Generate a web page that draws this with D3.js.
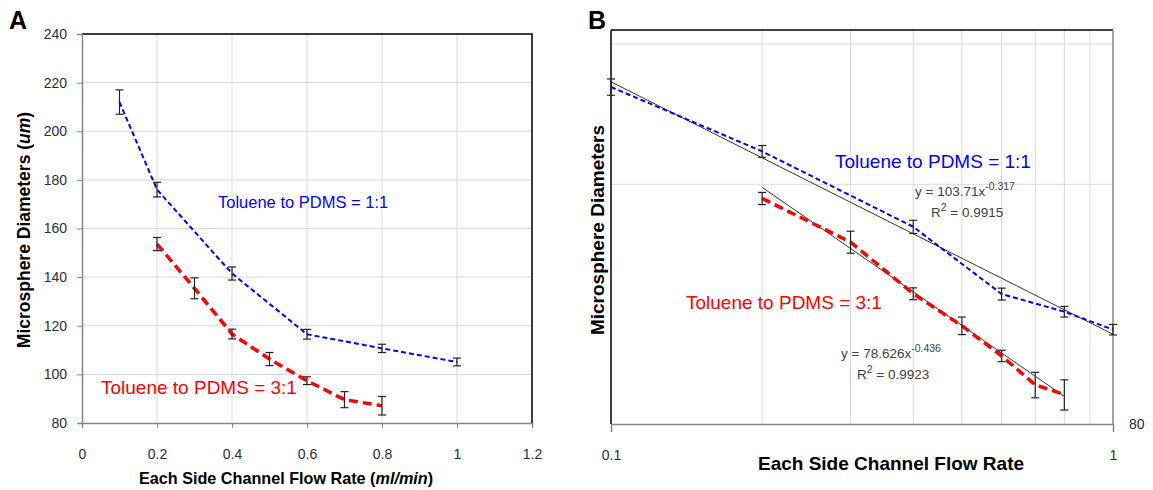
<!DOCTYPE html>
<html lang="en">
<head>
    <meta charset="UTF-8">
    <title>Microsphere diameters vs side channel flow rate</title>
    <script src="https://d3js.org/d3.v7.min.js"></script>
    <style>
        body {
            margin: 0;
            padding: 0;
            background-color: #fff;
            font-family: Arial, "Liberation Sans", sans-serif;
        }

        .tick text {
            font-size: 14px;
            fill: #2b2b3a;
            font-family: "Liberation Sans", Arial, sans-serif;
        }

        .grid line {
            stroke: #d9d9d9;
            stroke-width: 1px;
        }

        .axis-title {
            font-weight: bold;
            fill: #000;
        }
    </style>
</head>
<body>
<svg id="chart" width="1153" height="490"></svg>

<script>
    // data
    const flowBlue = [0.1, 0.2, 0.4, 0.6, 0.8, 1.0];
    const diaBlue = [212, 176, 141.5, 116.5, 110.7, 105.1];
    const errBlue = [5, 3, 2.7, 2, 1.7, 1.6];

    const flowRed = [0.2, 0.3, 0.4, 0.5, 0.6, 0.7, 0.8];
    const diaRed = [153.6, 135.4, 116.6, 106.3, 97.4, 89.6, 87.1];
    const errRed = [2.7, 4.3, 2, 2.7, 1.6, 3.3, 3.8];

    // power trendlines shown in panel B: y = a * x^b
    const fitBlue = { a: 103.71, b: -0.317, r2: '0.9915' };
    const fitRed = { a: 78.626, b: -0.436, r2: '0.9923' };

    const xTicksA = [0, 0.2, 0.4, 0.6, 0.8, 1, 1.2];
    const yTicksA = [80, 100, 120, 140, 160, 180, 200, 220, 240];
    const xGridB = [0.2, 0.3, 0.4, 0.5, 0.6, 0.7, 0.8, 0.9];
    const yGridB = [160, 240];

    const blueSeries = flowBlue.map((f, i) => ({ x: f, y: diaBlue[i], e: errBlue[i] }));
    const redSeries = flowRed.map((f, i) => ({ x: f, y: diaRed[i], e: errRed[i] }));

    const svg = d3.select('#chart');

    // ---------- Panel A ----------
    const xA = d3.scaleLinear().domain([0, 1.2]).range([82, 532]);
    const yA = d3.scaleLinear().domain([80, 240]).range([423, 34]);

    const gA = svg.append('g');

    // gridlines
    gA.append('g').attr('class', 'grid')
        .selectAll('line').data(xTicksA.slice(1)).join('line')
        .attr('x1', d => xA(d)).attr('x2', d => xA(d))
        .attr('y1', yA(240)).attr('y2', yA(80));
    gA.append('g').attr('class', 'grid')
        .selectAll('line').data(yTicksA.slice(1)).join('line')
        .attr('x1', xA(0)).attr('x2', xA(1.2))
        .attr('y1', d => yA(d)).attr('y2', d => yA(d));

    // border top / right
    gA.append('path')
        .attr('d', `M${xA(0)},${yA(240)}H${xA(1.2)}V${yA(80)}`)
        .attr('fill', 'none').attr('stroke', '#000').attr('stroke-width', 1.5);

    // axes
    const axA = gA.append('g')
        .attr('transform', `translate(0,${yA(80)})`)
        .call(d3.axisBottom(xA).tickValues(xTicksA).tickSize(5).tickPadding(21).tickFormat(d3.format('')));
    const ayA = gA.append('g')
        .attr('transform', `translate(${xA(0)},0)`)
        .call(d3.axisLeft(yA).tickValues(yTicksA).tickSize(5).tickPadding(10));
    [axA, ayA].forEach(a => {
        a.selectAll('.domain').attr('stroke', '#868686').attr('stroke-width', 1.5);
        a.selectAll('.tick line').attr('stroke', '#868686');
    });

    const lineA = d3.line().x(d => xA(d.x)).y(d => yA(d.y));

    gA.append('path').datum(blueSeries)
        .attr('d', lineA).attr('fill', 'none')
        .attr('stroke', '#0000ff').attr('stroke-width', 2).attr('stroke-dasharray', '5,3');
    gA.append('path').datum(redSeries)
        .attr('d', lineA).attr('fill', 'none')
        .attr('stroke', '#ff0000').attr('stroke-width', 3.5).attr('stroke-dasharray', '9,5');

    function errorBars(g, data, x, y) {
        const eb = g.append('g').attr('stroke', '#222').attr('stroke-width', 1.2);
        data.forEach(d => {
            const cx = x(d.x), top = y(d.y + d.e), bot = y(d.y - d.e);
            eb.append('line').attr('x1', cx).attr('x2', cx).attr('y1', top).attr('y2', bot);
            eb.append('line').attr('x1', cx - 4).attr('x2', cx + 4).attr('y1', top).attr('y2', top);
            eb.append('line').attr('x1', cx - 4).attr('x2', cx + 4).attr('y1', bot).attr('y2', bot);
        });
    }
    errorBars(gA, blueSeries, xA, yA);
    errorBars(gA, redSeries, xA, yA);

    gA.append('text').attr('x', 9).attr('y', 29)
        .attr('font-size', 25).attr('font-weight', 'bold').text('A');

    const yTitleA = gA.append('text').attr('class', 'axis-title')
        .attr('transform', `translate(30,230) rotate(-90)`)
        .attr('text-anchor', 'middle').attr('font-size', 17.5);
    yTitleA.append('tspan').text('Microsphere Diameters (');
    yTitleA.append('tspan').attr('font-style', 'italic').text('um');
    yTitleA.append('tspan').text(')');

    const xTitleA = gA.append('text').attr('class', 'axis-title')
        .attr('x', 286).attr('y', 484)
        .attr('text-anchor', 'middle').attr('font-size', 16.2);
    xTitleA.append('tspan').text('Each Side Channel Flow Rate (');
    xTitleA.append('tspan').attr('font-style', 'italic').text('ml/min');
    xTitleA.append('tspan').text(')');

    gA.append('text').attr('x', 218).attr('y', 208)
        .attr('font-size', 16.5).attr('fill', '#0000ff').text('Toluene to PDMS = 1:1');
    gA.append('text').attr('x', 101).attr('y', 394)
        .attr('font-size', 19).attr('fill', '#ff0000').text('Toluene to PDMS = 3:1');

    // ---------- Panel B ----------
    const xB = d3.scaleLog().domain([0.1, 1]).range([611, 1113]);
    const yB = d3.scaleLog().domain([80, 250]).range([424, 30]);

    const gB = svg.append('g');

    gB.append('g').attr('class', 'grid')
        .selectAll('line').data(xGridB).join('line')
        .attr('x1', d => xB(d)).attr('x2', d => xB(d))
        .attr('y1', yB(250)).attr('y2', yB(80));
    gB.append('g').attr('class', 'grid')
        .selectAll('line').data(yGridB).join('line')
        .attr('x1', xB(0.1)).attr('x2', xB(1))
        .attr('y1', d => yB(d)).attr('y2', d => yB(d));

    // frame: top black, right grey, left black, bottom grey
    gB.append('line').attr('x1', xB(0.1)).attr('x2', xB(1)).attr('y1', yB(250)).attr('y2', yB(250))
        .attr('stroke', '#000').attr('stroke-width', 1.5);
    gB.append('line').attr('x1', xB(1)).attr('x2', xB(1)).attr('y1', yB(250)).attr('y2', yB(80))
        .attr('stroke', '#868686').attr('stroke-width', 1.5);

    const axB = gB.append('g')
        .attr('transform', `translate(0,${yB(80)})`)
        .call(d3.axisBottom(xB).tickValues([0.1, 1]).tickSize(8).tickPadding(18).tickFormat(d3.format('')));
    axB.selectAll('.domain').attr('stroke', '#868686').attr('stroke-width', 1.5);
    axB.selectAll('.tick line').attr('stroke', '#868686');

    gB.append('line').attr('x1', xB(0.1)).attr('x2', xB(0.1)).attr('y1', yB(250)).attr('y2', yB(80))
        .attr('stroke', '#000').attr('stroke-width', 1.5);

    // y-axis min label ends up at the right side
    gB.append('text')
        .attr('x', xB(1) + 16).attr('y', yB(80) + 5)
        .attr('font-size', 14).attr('fill', '#2b2b3a').text('80');

    const lineB = d3.line().x(d => xB(d.x)).y(d => yB(d.y));

    // trendlines
    [[fitBlue, flowBlue], [fitRed, flowRed]].forEach(([fit, flows]) => {
        const pts = flows.map(f => ({ x: f, y: fit.a * Math.pow(f, fit.b) }));
        gB.append('path').datum(pts).attr('d', lineB).attr('fill', 'none')
            .attr('stroke', '#333').attr('stroke-width', 1);
    });

    gB.append('path').datum(blueSeries)
        .attr('d', lineB).attr('fill', 'none')
        .attr('stroke', '#0000ff').attr('stroke-width', 2).attr('stroke-dasharray', '5,3');
    gB.append('path').datum(redSeries)
        .attr('d', lineB).attr('fill', 'none')
        .attr('stroke', '#ff0000').attr('stroke-width', 3.5).attr('stroke-dasharray', '9,5');

    errorBars(gB, blueSeries, xB, yB);
    errorBars(gB, redSeries, xB, yB);

    gB.append('text').attr('x', 588).attr('y', 29)
        .attr('font-size', 25).attr('font-weight', 'bold').text('B');

    gB.append('text').attr('class', 'axis-title')
        .attr('transform', `translate(604,230) rotate(-90)`)
        .attr('text-anchor', 'middle').attr('font-size', 19)
        .text('Microsphere Diameters');

    gB.append('text').attr('class', 'axis-title')
        .attr('x', 891).attr('y', 470)
        .attr('text-anchor', 'middle').attr('font-size', 19)
        .text('Each Side Channel Flow Rate');

    gB.append('text').attr('x', 835).attr('y', 168)
        .attr('font-size', 19).attr('fill', '#0000ff').text('Toluene to PDMS = 1:1');
    gB.append('text').attr('x', 686).attr('y', 309)
        .attr('font-size', 19).attr('fill', '#ff0000').text('Toluene to PDMS = 3:1');

    function equation(g, x, y, fit) {
        const t = g.append('text').attr('x', x).attr('y', y)
            .attr('font-size', 13.5).attr('fill', '#404040');
        t.append('tspan').text(`y = ${fit.a}x`);
        t.append('tspan').attr('dy', -6).attr('font-size', 10.5).text(`${fit.b}`);
        const r = g.append('text').attr('x', x + 16).attr('y', y + 21)
            .attr('font-size', 13.5).attr('fill', '#404040');
        r.append('tspan').text('R');
        r.append('tspan').attr('dy', -6).attr('font-size', 10.5).text('2');
        r.append('tspan').attr('dy', 6).text(` = ${fit.r2}`);
    }
    equation(gB, 915, 196, fitBlue);
    equation(gB, 841, 358, fitRed);
</script>
</body>
</html>
